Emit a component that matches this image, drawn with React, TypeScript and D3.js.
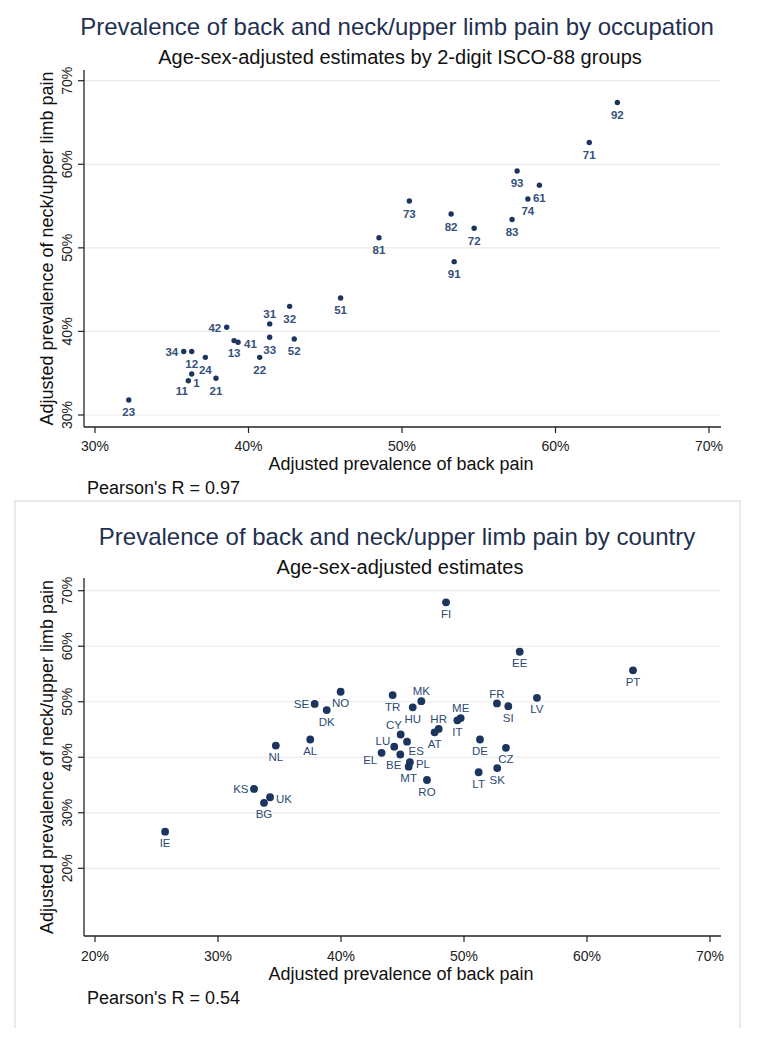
import React from 'react';
import * as d3 from 'd3';

// ---------- Data: occupation (ISCO-88 2-digit) ----------
const occCodes = ["1", "11", "12", "13", "21", "22", "23", "24", "31", "32", "33", "34", "41", "42", "51", "52", "61", "71", "72", "73", "74", "81", "82", "83", "91", "92", "93"];
const occBack = [36.3, 36.08, 36.3, 39.06, 37.88, 40.73, 32.2, 37.19, 41.38, 42.68, 41.38, 35.78, 39.32, 38.58, 46.0, 42.98, 58.95, 62.2, 54.7, 50.48, 58.2, 48.5, 53.2, 57.17, 53.4, 64.03, 57.5];
const occNeck = [34.9, 34.1, 37.6, 38.9, 34.4, 36.9, 31.8, 36.9, 40.9, 43.0, 39.3, 37.6, 38.7, 40.5, 44.0, 39.1, 57.5, 62.6, 52.35, 55.6, 55.85, 51.2, 54.05, 53.4, 48.35, 67.4, 59.2];
// clock position of each marker label (Stata mlabvposition)
const occLabelPos = [4, 7, 6, 6, 6, 6, 6, 6, 12, 6, 6, 9, 3, 9, 6, 6, 6, 6, 6, 6, 6, 6, 6, 6, 6, 6, 6];

// ---------- Data: country ----------
const countryCodes = ["FI", "EE", "PT", "SE", "NO", "DK", "TR", "MK", "HU", "FR", "SI", "LV", "ME", "IT", "HR", "AT", "CY", "AL", "NL", "DE", "LU", "ES", "CZ", "EL", "BE", "PL", "MT", "SK", "LT", "RO", "KS", "UK", "BG", "IE"];
const countryBack = [48.54, 54.53, 63.74, 37.86, 39.97, 38.84, 44.2, 46.53, 45.83, 52.68, 53.6, 55.93, 49.73, 49.46, 47.94, 47.61, 44.85, 37.5, 34.7, 51.3, 44.33, 45.37, 53.41, 43.3, 44.82, 45.6, 45.5, 52.7, 51.19, 46.99, 32.93, 34.23, 33.74, 25.7];
const countryNeck = [67.9, 59.0, 55.66, 49.6, 51.8, 48.5, 51.2, 50.1, 49.0, 49.7, 49.2, 50.7, 47.06, 46.65, 45.1, 44.5, 44.1, 43.2, 42.1, 43.2, 41.9, 42.8, 41.7, 40.8, 40.5, 39.1, 38.3, 38.05, 37.3, 35.9, 34.3, 32.8, 31.8, 26.6];
const countryLabelPos = [6, 6, 6, 9, 6, 6, 6, 12, 6, 12, 6, 6, 12, 6, 12, 6, 11, 6, 6, 6, 10, 5, 6, 8, 7, 3, 6, 6, 6, 6, 9, 3, 6, 6];

// ---------- Axis ticks & texts ----------
const occXTicks = [30, 40, 50, 60, 70];
const occYTicks = [30, 40, 50, 60, 70];
const ctyXTicks = [20, 30, 40, 50, 60, 70];
const ctyYTicks = [20, 30, 40, 50, 60, 70];

const occTitle = "Prevalence of back and neck/upper limb pain by occupation";
const occSubtitle = "Age-sex-adjusted estimates by 2-digit ISCO-88 groups";
const ctyTitle = "Prevalence of back and neck/upper limb pain by country";
const ctySubtitle = "Age-sex-adjusted estimates";
const xTitle = "Adjusted prevalence of back pain";
const yTitle = "Adjusted prevalence of neck/upper limb pain";
const occPearson = "Pearson's R = 0.97";
const ctyPearson = "Pearson's R = 0.54";

const FONT = "'Liberation Sans', Arial, Helvetica, sans-serif";
const NAVY = "#1b355e";
const TITLE_COL = "#1f3050";

function labelOffset(pos: number, belowDy: number) {
  switch (pos) {
    case 12: return { dx: 0, dy: -5.8, anchor: 'middle' };
    case 3: return { dx: 6, dy: 5.5, anchor: 'start' };
    case 9: return { dx: -5.5, dy: 4.5, anchor: 'end' };
    case 7: return { dx: -6.5, dy: 14.5, anchor: 'middle' };
    case 5: return { dx: 1.5, dy: 13, anchor: 'start' };
    case 4: return { dx: 4.7, dy: 12.8, anchor: 'middle' };
    case 8: return { dx: -4.3, dy: 11.4, anchor: 'end' };
    case 10: return { dx: -4, dy: -1.5, anchor: 'end' };
    case 11: return { dx: -6.7, dy: -5.6, anchor: 'middle' };
    default: return { dx: 0, dy: belowDy, anchor: 'middle' };
  }
}

type PanelProps = {
  codes: string[]; xs: number[]; ys: number[]; pos: number[];
  xDomain: [number, number]; xRange: [number, number];
  yDomain: [number, number]; yRange: [number, number];
  xTicks: number[]; yTicks: number[];
  axisTop: number; axisBottom: number;
  title: string; subtitle: string; pearson: string;
  titleY: number; subtitleY: number; tickLabelY: number; xTitleY: number; pearsonY: number;
  r: number; labelSize: number; labelWeight: string; labelColor: string; belowDy: number;
};

function Panel(p: PanelProps) {
  const x = d3.scaleLinear().domain(p.xDomain).range(p.xRange);
  const y = d3.scaleLinear().domain(p.yDomain).range(p.yRange);
  const left = 84, right = 721;
  const pct = (v: number) => `${v}%`;
  return (
    <g>
      <text x={397} y={p.titleY} textAnchor="middle" fontSize={24} fill={TITLE_COL} fontFamily={FONT}>{p.title}</text>
      <text x={400} y={p.subtitleY} textAnchor="middle" fontSize={20} fill="#111" fontFamily={FONT}>{p.subtitle}</text>
      {p.yTicks.map(t => (
        <line key={'g' + t} x1={left} x2={right} y1={y(t)} y2={y(t)} stroke="#ebebeb" strokeWidth={1.2} />
      ))}
      <line x1={left} x2={left} y1={p.axisTop} y2={p.axisBottom} stroke="#222" strokeWidth={1.3} />
      <line x1={left} x2={right} y1={p.axisBottom} y2={p.axisBottom} stroke="#222" strokeWidth={1.3} />
      {p.yTicks.map(t => (
        <g key={'yt' + t}>
          <line x1={left - 6} x2={left} y1={y(t)} y2={y(t)} stroke="#222" strokeWidth={1.2} />
          <text transform={`translate(71.5,${y(t)}) rotate(-90)`} textAnchor="middle" fontSize={14} fill="#222" fontFamily={FONT}>{pct(t)}</text>
        </g>
      ))}
      {p.xTicks.map(t => (
        <g key={'xt' + t}>
          <line x1={x(t)} x2={x(t)} y1={p.axisBottom} y2={p.axisBottom + 6} stroke="#222" strokeWidth={1.2} />
          <text x={x(t)} y={p.tickLabelY} textAnchor="middle" fontSize={14} fill="#222" fontFamily={FONT}>{pct(t)}</text>
        </g>
      ))}
      <text x={401} y={p.xTitleY} textAnchor="middle" fontSize={18} fill="#111" fontFamily={FONT}>{xTitle}</text>
      <text transform={`translate(53,${(p.axisTop + p.axisBottom) / 2}) rotate(-90)`} textAnchor="middle" fontSize={18} fill="#111" fontFamily={FONT}>{yTitle}</text>
      <text x={87} y={p.pearsonY} fontSize={18} fill="#111" fontFamily={FONT}>{p.pearson}</text>
      {p.codes.map((c, i) => (
        <circle key={'m' + c} cx={x(p.xs[i])} cy={y(p.ys[i])} r={p.r} fill={NAVY} />
      ))}
      {p.codes.map((c, i) => {
        const o = labelOffset(p.pos[i], p.belowDy);
        return (
          <text key={'l' + c} x={x(p.xs[i]) + o.dx} y={y(p.ys[i]) + o.dy} textAnchor={o.anchor as any}
            fontSize={p.labelSize} fontWeight={p.labelWeight} fill={p.labelColor} fontFamily={FONT}>{c}</text>
        );
      })}
    </g>
  );
}

export default function App() {
  return (
    <svg width={763} height={1050} style={{ position: 'absolute', left: 0, top: 0, background: '#fff' }}>
      <rect x={0} y={0} width={763} height={1050} fill="#fff" />
      <Panel codes={occCodes} xs={occBack} ys={occNeck} pos={occLabelPos}
        xDomain={[30, 70]} xRange={[95, 709]} yDomain={[30, 70]} yRange={[415, 80.7]}
        xTicks={occXTicks} yTicks={occYTicks} axisTop={70} axisBottom={427}
        title={occTitle} subtitle={occSubtitle} pearson={occPearson}
        titleY={34.6} subtitleY={64} tickLabelY={450.5} xTitleY={469.5} pearsonY={494}
        r={2.7} labelSize={11.5} labelWeight="bold" labelColor="#34507a" belowDy={16.5} />
      <path d="M15,1028 L15,501 L740,501 L740,1028" fill="none" stroke="#e6e8ec" strokeWidth={1.8} />
      <Panel codes={countryCodes} xs={countryBack} ys={countryNeck} pos={countryLabelPos}
        xDomain={[20, 70]} xRange={[95, 710]} yDomain={[20, 70]} yRange={[868.3, 590.7]}
        xTicks={ctyXTicks} yTicks={ctyYTicks} axisTop={578} axisBottom={936}
        title={ctyTitle} subtitle={ctySubtitle} pearson={ctyPearson}
        titleY={544.6} subtitleY={574} tickLabelY={960.5} xTitleY={980} pearsonY={1004}
        r={3.9} labelSize={11.5} labelWeight="normal" labelColor="#2d4b72" belowDy={15.5} />
    </svg>
  );
}
